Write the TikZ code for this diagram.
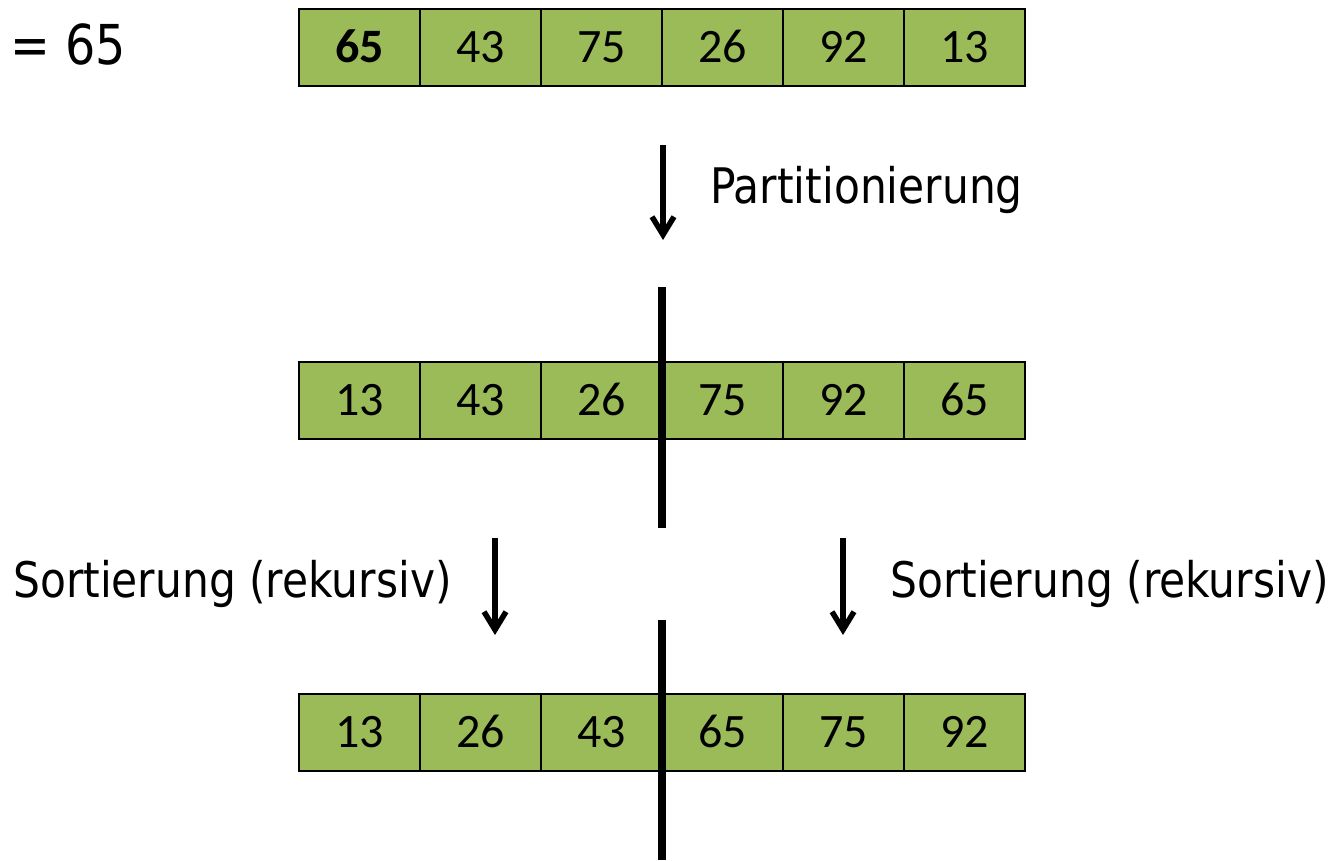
\documentclass[tikz,border=0pt]{standalone}
\usepackage{fontspec}
\setmainfont[FakeStretch=0.865]{DejaVu Sans}
\newfontfamily\numfont{Carlito}
\usepackage{tikz}
\usetikzlibrary{arrows.meta}
\definecolor{cellgreen}{HTML}{9BBB59}
\tikzstyle{cell}=[draw=black, line width=1.5pt, fill=cellgreen, minimum width=121pt, minimum height=77pt, inner sep=0pt, text height=30pt, text depth=0pt, font=\numfont\fontsize{48}{58}\selectfont]
\tikzstyle{bar}=[line width=8pt]
\tikzstyle{arr}=[line width=5.5pt, -{Straight Barb[length=18pt,width=22pt]}]
\tikzstyle{lbl}=[inner sep=0pt, anchor=base west, font=\fontsize{49}{59}\selectfont]

\begin{document}
\begin{tikzpicture}[x=1pt,y=-1pt]
    \useasboundingbox (0,0) rectangle (1335,860);
    \node[lbl, font=\fontsize{55}{65}\selectfont] (pivot) at (10,64) {= 65};
    % rows
    \foreach \v [count=\i] in {{\textbf{65}},43,75,26,92,13}
      \node[cell] (a\i) at ({238.5+121*\i},47.5) {\v};
    \foreach \v [count=\i] in {13,43,26,75,92,65}
      \node[cell] (b\i) at ({238.5+121*\i},400.5) {\v};
    \foreach \v [count=\i] in {13,26,43,65,75,92}
      \node[cell] (c\i) at ({238.5+121*\i},732.5) {\v};
    % split bars
    \coordinate (bt) at (662,287);
    \coordinate (bb) at (662,528);
    \coordinate (ct) at (662,620);
    \coordinate (cb) at (662,860);
    \draw[bar] (bt) -- (bb);
    \draw[bar] (ct) -- (cb);
    % arrows
    \coordinate (p1) at (663,145);
    \coordinate (p2) at (663,240);
    \coordinate (l1) at (495,538);
    \coordinate (l2) at (495,635);
    \coordinate (r1) at (843,538);
    \coordinate (r2) at (843,635);
    \foreach \from/\to in {p1/p2, l1/l2, r1/r2}
    \draw[arr] (\from) -- (\to);
    \node[lbl] (part) at (710,203) {Partitionierung};
    \node[lbl] (sortl) at (13,597) {Sortierung (rekursiv)};
    \node[lbl] (sortr) at (890,597) {Sortierung (rekursiv)};
\end{tikzpicture}
\end{document}
